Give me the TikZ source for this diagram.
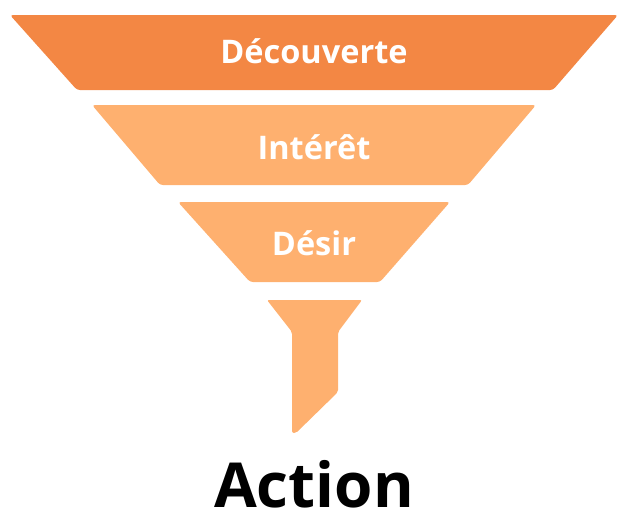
\documentclass[tikz,border=0pt]{standalone}
\usepackage{fontspec}
\setmainfont{Open Sans}

\definecolor{funneldark}{RGB}{243,135,68}
\definecolor{funnellight}{RGB}{254,176,111}

\begin{document}
\begin{tikzpicture}[x=1pt,y=-1pt]
  % Bounding box
  \useasboundingbox (0,0) rectangle (628,522);

  % Bands
  \fill[funneldark,  rounded corners=3pt] (10,15) -- (618,15) -- (553,90) -- (77,90) -- cycle;
  \fill[funnellight, rounded corners=3pt] (92,105) -- (536,105) -- (468,185) -- (160,185) -- cycle;
  \fill[funnellight, rounded corners=3pt] (178,202) -- (450,202) -- (380,282) -- (250,282) -- cycle;

  % Stem
  \fill[funnellight, rounded corners=2pt] (267,300) -- (362,300) -- (338,332) -- (338,392)
    -- (296,433) -- (292,433) -- (292,332) -- cycle;

  % Labels
  \node[white, font=\bfseries\fontsize{32.5}{38}\selectfont, anchor=base] (decouverte) at (314,63)  {Découverte};
  \node[white, font=\bfseries\fontsize{32.5}{38}\selectfont, anchor=base] (interet)    at (314,159) {Intérêt};
  \node[white, font=\bfseries\fontsize{32.5}{38}\selectfont, anchor=base] (desir)      at (314,255) {Désir};
  \node[black, font=\bfseries\fontsize{62}{70}\selectfont, anchor=base] (action)     at (314,507) {Action};
\end{tikzpicture}
\end{document}
